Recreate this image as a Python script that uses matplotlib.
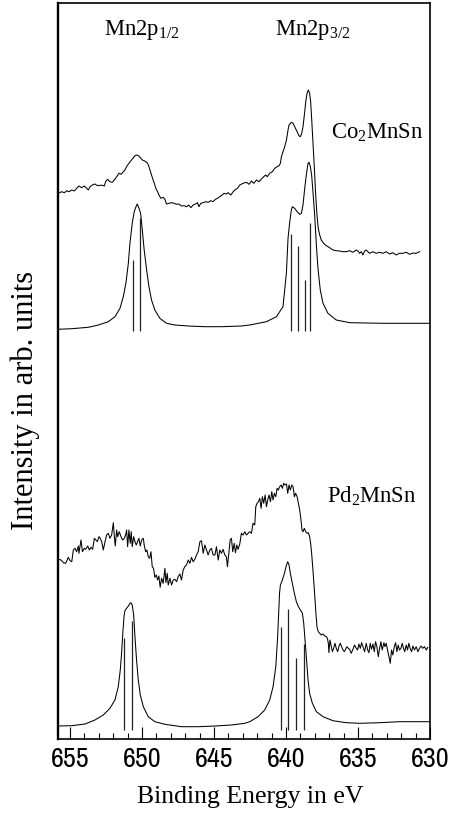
import matplotlib
matplotlib.use("Agg")
import matplotlib.pyplot as plt
from matplotlib.ticker import MultipleLocator

plt.rcParams['font.family'] = ['Liberation Serif', 'DejaVu Serif']
plt.rcParams['mathtext.fontset'] = 'custom'
plt.rcParams['mathtext.rm'] = 'Liberation Serif'
plt.rcParams['mathtext.it'] = 'Liberation Serif:italic'

# ---------------- data (binding energy in eV, intensity in arb. units) -------------
co_exp_e = [655.81, 655.58, 655.39, 655.23, 655.07, 654.88, 654.70, 654.54, 654.38, 654.19,
            654.01, 653.84, 653.73, 653.61, 653.45, 653.27, 653.08, 652.92, 652.76, 652.62,
            652.53, 652.39, 652.23, 652.06, 651.93, 651.76, 651.60, 651.46, 651.30, 651.19,
            651.05, 650.91, 650.77, 650.63, 650.49, 650.38, 650.22, 650.08, 649.98, 649.85,
            649.75, 649.61, 649.52, 649.38, 649.27, 649.15, 649.04, 648.92, 648.83, 648.69,
            648.53, 648.41, 648.30, 648.13, 647.95, 647.76, 647.60, 647.44, 647.26, 647.07,
            646.91, 646.75, 646.61, 646.45, 646.28, 646.15, 646.05, 645.92, 645.75, 645.59,
            645.41, 645.22, 645.06, 644.90, 644.76, 644.60, 644.44, 644.30, 644.14, 644.02,
            643.83, 643.67, 643.56, 643.37, 643.21,
            642.98, 642.75, 642.56, 642.40, 642.24, 642.05, 641.87, 641.71, 641.55, 641.41,
            641.31, 641.13, 640.95, 640.78, 640.62, 640.48, 640.39, 640.32, 640.21, 640.09,
            639.97, 639.86, 639.79, 639.63, 639.51, 639.40, 639.23, 639.10, 639.00, 638.91,
            638.82, 638.70, 638.63, 638.54, 638.45, 638.36, 638.29, 638.22, 638.13, 638.03,
            637.94, 637.85, 637.76, 637.66, 637.55, 637.39, 637.20, 636.97, 636.74, 636.51,
            636.28, 636.04, 635.81, 635.58, 635.35, 635.12, 635.00, 634.89, 634.77, 634.66,
            634.54, 634.43, 634.20, 633.96, 633.73, 633.50, 633.27, 633.04, 632.81, 632.58,
            632.35, 632.12, 631.88, 631.65, 631.42, 631.19, 630.96, 630.73]
co_exp_i = [545.2, 546.8, 545.8, 547.8, 546.8, 548.5, 547.5, 550.2, 552.5, 550.8,
            552.5, 550.2, 548.5, 551.8, 553.5, 554.5, 552.8, 553.2, 553.2, 552.5,
            556.8, 559.2, 556.8, 556.2, 558.5, 561.8, 565.2, 564.2, 566.8, 568.5,
            572.5, 575.2, 577.8, 580.2, 582.8, 583.5, 582.5, 580.2, 578.5, 577.8,
            576.8, 575.2, 571.8, 565.2, 560.2, 555.2, 550.2, 546.8, 543.5, 540.2,
            541.2, 539.2, 534.5, 535.2, 535.8, 535.2, 534.2, 534.5, 532.5, 532.8,
            531.8, 533.5, 530.8, 533.5, 534.5, 535.8, 531.8, 535.2, 535.8, 536.8,
            536.2, 537.8, 536.8, 539.2, 540.2, 541.8, 543.5, 545.2, 544.5, 545.8,
            543.5, 546.8, 548.5, 550.2, 553.5,
            555.2, 556.2, 554.2, 557.5, 555.2, 558.5, 556.8, 559.5, 561.8, 563.5,
            561.8, 565.2, 566.8, 570.2, 571.8, 572.8, 575.2, 581.8, 586.8, 591.8,
            598.5, 608.5, 613.5, 616.2, 615.2, 611.8, 606.8, 602.8, 601.8, 605.2,
            611.8, 626.8, 636.8, 645.2, 648.5, 645.2, 636.8, 620.2, 596.8, 570.2,
            543.5, 523.5, 510.2, 503.5, 498.5, 495.2, 492.8, 490.8, 488.5, 487.8,
            487.5, 486.8, 486.8, 487.8, 486.2, 488.5, 487.5, 485.2, 486.8, 483.5,
            487.5, 488.5, 485.2, 486.8, 485.2, 486.2, 485.2, 486.8, 484.5, 485.8,
            483.5, 485.2, 485.2, 486.2, 484.2, 485.5, 485.2, 486.8]

co_sim_e = [655.87, 654.88, 653.73, 653.03, 652.34, 651.88, 651.53, 651.30, 651.12, 650.95,
            650.84, 650.68, 650.54, 650.42, 650.33, 650.21, 650.10, 649.98, 649.85, 649.68,
            649.52, 649.34, 649.11, 648.76, 648.30, 647.72, 646.79, 645.64, 644.48, 643.10,
            642.52, 641.36, 640.67, 640.21,
            639.97, 639.86, 639.74, 639.63, 639.56, 639.40, 639.23, 639.05, 638.93, 638.82,
            638.70, 638.59, 638.47, 638.40, 638.31, 638.22, 638.13, 638.01, 637.89, 637.78,
            637.62, 637.43, 637.09, 636.51, 635.58, 633.27, 630.00]
co_sim_i = [409.2, 409.8, 411.2, 413.5, 416.8, 421.8, 430.2, 441.8, 455.2, 475.2,
            495.2, 515.2, 526.8, 531.8, 534.5, 530.2, 525.2, 508.5, 488.5, 468.5,
            451.8, 438.5, 428.5, 420.2, 415.2, 413.5, 412.5, 411.8, 411.8, 412.5,
            413.5, 416.8, 421.8, 431.8,
            466.0, 500.2, 516.8, 528.5, 531.8, 530.2, 526.8, 524.2, 525.2, 533.5,
            550.2, 563.5, 575.2, 576.2, 571.8, 563.5, 546.8, 523.5, 493.0, 470.0,
            448.5, 435.2, 425.2, 418.5, 415.8, 415.2, 415.2]

co_stick_e = [650.60, 650.17, 639.64, 639.17, 638.70, 638.31]
co_stick_i = [478.5, 520.2, 505.0, 493.0, 458.5, 516.0]
co_stick_base = 408.0

pd_exp_e = [655.81, 655.62, 655.46, 655.30, 655.12, 655.00, 654.88, 654.77, 654.65, 654.54,
            654.42, 654.38, 654.24, 654.14, 654.01, 653.91, 653.77, 653.66, 653.54, 653.43,
            653.31, 653.20, 653.10, 652.99, 652.90, 652.80, 652.69, 652.57, 652.46, 652.34,
            652.23, 652.11, 651.99, 651.93, 651.86, 651.76, 651.69, 651.58, 651.46, 651.35,
            651.23, 651.14, 651.07, 651.00, 650.91, 650.82, 650.75, 650.68, 650.58, 650.49,
            650.40, 650.31, 650.22, 650.12, 650.03, 649.91, 649.85, 649.75, 649.66, 649.57,
            649.47, 649.38, 649.29, 649.20, 649.11, 649.01, 648.92, 648.83, 648.74, 648.64,
            648.53, 648.41, 648.34, 648.25, 648.18, 648.06, 647.95, 647.83, 647.72, 647.60,
            647.49, 647.37, 647.26, 647.14, 647.03, 646.91, 646.79, 646.68, 646.56, 646.45,
            646.33, 646.22, 646.10, 645.98, 645.87, 645.75, 645.64, 645.52, 645.41, 645.29,
            645.18, 645.06, 644.94, 644.83, 644.71, 644.60, 644.48, 644.37, 644.25, 644.14,
            644.07, 643.97, 643.88, 643.79, 643.70, 643.60, 643.51, 643.42, 643.33, 643.21,
            643.10, 642.98, 642.86, 642.75, 642.63, 642.52, 642.40, 642.29, 642.17, 642.10,
            642.01, 641.92, 641.82, 641.73, 641.64, 641.55, 641.45, 641.36, 641.27, 641.18,
            641.08, 640.99, 640.90, 640.81, 640.71, 640.62, 640.53, 640.44, 640.34, 640.25,
            640.16, 640.07, 639.97, 639.88, 639.79, 639.70, 639.60, 639.51, 639.42, 639.33,
            639.23, 639.14, 639.05, 638.96, 638.89, 638.82, 638.73, 638.63, 638.54, 638.45,
            638.36, 638.29, 638.22, 638.13, 638.03, 637.94, 637.85, 637.76, 637.66, 637.55,
            637.43, 637.32, 637.20, 637.13, 637.06, 637.02, 636.95, 636.88, 636.78, 636.69,
            636.60, 636.51, 636.41, 636.32, 636.23, 636.14, 636.04, 635.95, 635.86, 635.77,
            635.67, 635.58, 635.47, 635.35, 635.24, 635.12, 635.03, 634.94, 634.84, 634.75,
            634.66, 634.54, 634.43, 634.33, 634.24, 634.15, 634.06, 633.96, 633.87, 633.78,
            633.69, 633.59, 633.50, 633.41, 633.32, 633.20, 633.13, 633.04, 632.95, 632.85,
            632.76, 632.67, 632.58, 632.48, 632.39, 632.30, 632.21, 632.12, 632.02, 631.93,
            631.84, 631.75, 631.65, 631.56, 631.47, 631.38, 631.28, 631.19, 631.08, 630.96,
            630.84, 630.73, 630.61, 630.50, 630.38, 630.26, 630.15]
pd_exp_i = [179.2, 178.5, 175.8, 175.2, 181.2, 177.8, 176.8, 188.5, 190.2, 186.8,
            192.5, 185.2, 198.5, 186.8, 190.2, 189.2, 192.5, 188.5, 191.2, 189.2,
            200.2, 198.5, 196.8, 201.8, 200.2, 196.8, 188.5, 196.8, 203.5, 205.2,
            200.2, 203.5, 215.8, 203.5, 192.5, 208.5, 201.8, 206.8, 201.8, 198.5,
            200.2, 203.5, 208.5, 191.8, 208.5, 195.2, 206.8, 191.8, 201.8, 196.8,
            193.5, 196.8, 200.2, 192.5, 198.5, 200.2, 193.5, 186.8, 188.5, 181.8,
            180.2, 186.8, 171.8, 170.2, 161.2, 163.5, 158.5, 162.5, 151.2, 160.2,
            155.2, 170.2, 155.8, 165.2, 153.5, 160.2, 153.5, 158.5, 159.2, 156.8,
            161.8, 164.5, 158.5, 168.5, 171.8, 173.5, 178.5, 175.2, 181.2, 176.8,
            179.2, 183.5, 186.8, 196.8, 197.8, 185.2, 193.5, 188.5, 183.5, 188.5,
            190.2, 183.5, 183.5, 191.8, 178.5, 188.5, 185.2, 189.2, 183.5, 181.8,
            171.8, 185.2, 198.5, 200.2, 186.8, 195.2, 185.8, 193.5, 189.2, 194.5,
            205.2, 203.5, 206.8, 203.5, 205.2, 206.8, 205.2, 215.2, 213.5, 231.8,
            235.2, 236.8, 240.2, 230.2, 241.8, 235.2, 243.5, 231.8, 238.5, 243.5,
            236.8, 246.8, 238.5, 245.2, 241.8, 250.2, 248.5, 251.8, 253.5, 250.2,
            255.2, 253.5, 254.5, 245.2, 253.5, 248.5, 253.5, 251.8, 241.8, 245.2,
            241.8, 235.2, 228.5, 218.5, 208.5, 206.8, 210.2, 206.8, 205.2, 205.8,
            201.8, 195.2, 185.2, 168.5, 148.5, 128.5, 111.8, 106.8, 105.2, 103.5,
            104.5, 102.5, 101.8, 100.2, 95.2, 85.8, 98.5, 93.5, 86.8, 90.2,
            95.2, 90.2, 86.8, 92.5, 95.2, 91.8, 88.5, 86.8, 89.2, 91.8,
            90.2, 89.2, 85.2, 89.2, 93.5, 90.2, 88.5, 94.5, 90.2, 95.8,
            91.8, 86.8, 95.2, 88.5, 85.8, 95.2, 89.2, 94.5, 86.8, 96.8,
            91.8, 81.8, 90.2, 96.8, 88.5, 95.8, 91.8, 95.2, 88.5, 81.8,
            75.2, 88.5, 83.5, 91.8, 95.8, 86.8, 93.5, 88.5, 90.2, 95.2,
            90.2, 86.8, 93.5, 88.5, 95.2, 90.2, 86.8, 92.5, 88.5, 91.8,
            86.8, 90.2, 92.5, 90.2, 91.8, 88.5, 91.2]

pd_sim_e = [655.87, 654.88, 653.96, 653.27, 652.69, 652.23, 651.88, 651.65, 651.51, 651.42,
            651.32, 651.25, 651.19, 651.07, 650.95, 650.84, 650.77, 650.68, 650.58, 650.49,
            650.38, 650.26, 650.12, 649.91, 649.57, 649.11, 648.41, 647.26, 646.10, 644.94,
            643.79, 642.86, 642.52, 641.94, 641.48, 641.13, 640.90, 640.71, 640.58, 640.50,
            640.45, 640.39, 640.25, 640.11, 639.97, 639.88, 639.79, 639.70, 639.56, 639.42,
            639.28, 639.14, 639.00, 638.86, 638.77, 638.68, 638.59, 638.47, 638.36, 638.17,
            637.89, 637.43, 636.74, 635.81, 634.89, 633.50, 632.12, 630.00]
pd_sim_i = [12.5, 12.8, 14.5, 18.5, 23.5, 30.2, 38.5, 51.8, 68.5, 85.2,
            108.5, 121.8, 127.8, 130.2, 132.5, 135.2, 135.8, 133.5, 123.5, 101.8,
            78.5, 58.5, 43.5, 31.8, 21.8, 16.8, 14.2, 11.8, 11.8, 12.5,
            13.5, 15.2, 16.8, 21.8, 28.5, 38.5, 51.8, 71.8, 101.8, 128.5,
            145.2, 153.5, 158.5, 165.2, 173.5, 176.8, 173.5, 165.2, 155.2, 145.2,
            136.8, 131.8, 128.5, 125.2, 115.2, 98.5, 81.8, 58.5, 45.2, 35.2,
            26.8, 21.8, 17.8, 15.8, 15.2, 15.8, 16.8, 16.8]

pd_stick_e = [651.22, 650.69, 640.37, 639.83, 639.29, 638.77]
pd_stick_i = [100.2, 117.5, 112.0, 129.8, 80.2, 94.8]
pd_stick_base = 9.0

x_major = [655, 650, 645, 640, 635, 630]
x_major_labels = ['655', '650', '645', '640', '635', '630']

# ---------------- figure -----------------
W, H = 453, 815
fig = plt.figure(figsize=(W / 100, H / 100), dpi=100)
L, R, T, B = 57.5, 430.0, 3.0, 738.5
ax = fig.add_axes([L / W, (H - B) / H, (R - L) / W, (B - T) / H])

lw = 0.75
ax.plot(co_exp_e, co_exp_i, color='black', lw=lw)
ax.plot(co_sim_e, co_sim_i, color='black', lw=lw)
ax.vlines(co_stick_e, co_stick_base, co_stick_i, color='#222222', lw=0.9)
ax.plot(pd_exp_e, pd_exp_i, color='black', lw=lw)
ax.plot(pd_sim_e, pd_sim_i, color='black', lw=lw)
ax.vlines(pd_stick_e, pd_stick_base, pd_stick_i, color='#222222', lw=0.9)

ax.set_xlim(655.87, 630.0)
ax.set_ylim(0, 735.5)

ax.set_xticks(x_major)
ax.set_xticklabels(x_major_labels, family=['Pragati Narrow', 'Archivo Narrow', 'Liberation Sans'],
                   fontsize=22)
ax.xaxis.set_minor_locator(MultipleLocator(1))
ax.tick_params(axis='x', which='major', direction='in', length=8.5, width=0.8, pad=6, top=False)
ax.tick_params(axis='x', which='minor', direction='in', length=4.5, width=0.8, top=False)
ax.set_yticks([])

for side in ['top', 'right', 'bottom']:
    ax.spines[side].set_linewidth(1.2)
ax.spines['left'].set_linewidth(1.7)

ax.set_xlabel('Binding Energy in eV', fontsize=18.5)
ax.xaxis.set_label_coords((250 - L) / (R - L), -(797 - B) / (B - T), transform=ax.transAxes)
ax.xaxis.label.set_verticalalignment('center')
ax.set_ylabel('Intensity in arb. units', fontsize=22)
ax.yaxis.set_label_coords(-(L - 25) / (R - L), (B - 400) / (B - T), transform=ax.transAxes)
ax.yaxis.label.set_verticalalignment('center')

fs = 16.3
ax.text(650.04, 703.5, r'Mn2p$_{\mathrm{1/2}}$', fontsize=fs, ha='center', va='baseline')
ax.text(638.11, 703.5, r'Mn2p$_{\mathrm{3/2}}$', fontsize=fs, ha='center', va='baseline')
ax.text(636.85, 600.2, r'Co$_{\mathrm{2}}$MnSn', fontsize=fs, ha='left', va='baseline')
ax.text(637.18, 235.5, r'Pd$_{\mathrm{2}}$MnSn', fontsize=fs, ha='left', va='baseline')

fig.savefig('out.png', dpi=100)
